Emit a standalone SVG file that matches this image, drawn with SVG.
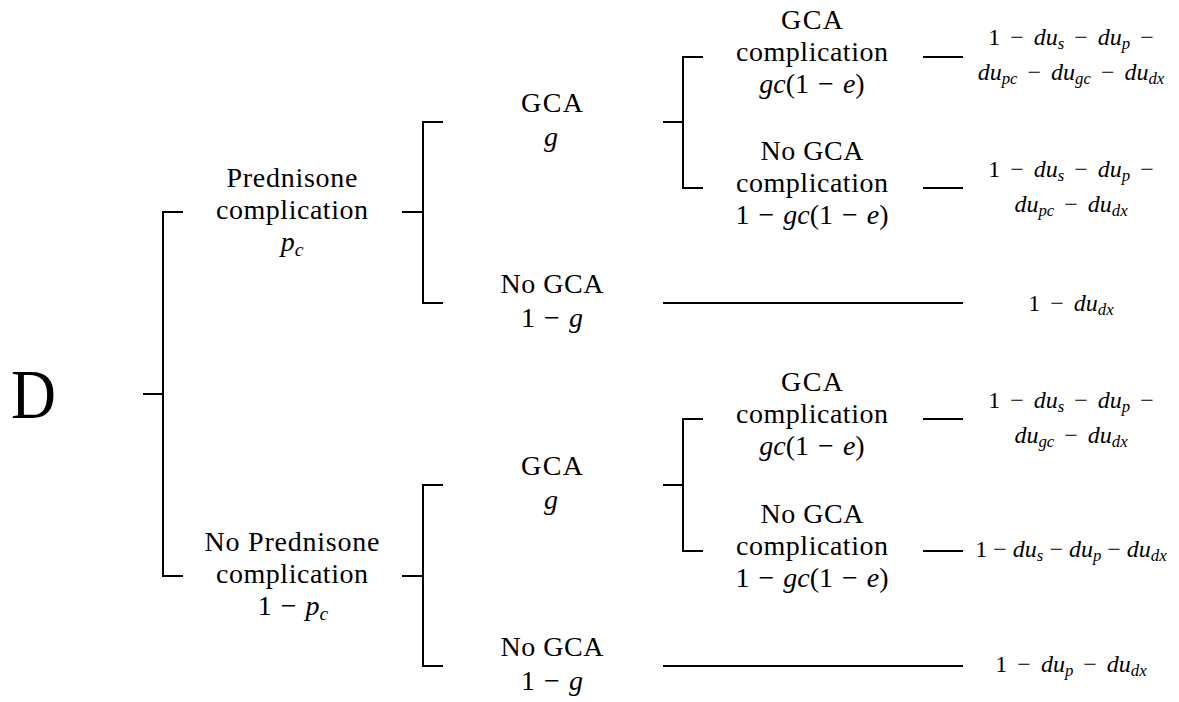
<svg xmlns="http://www.w3.org/2000/svg" width="1179" height="702" viewBox="0 0 1179 702">
<style>
.ln{stroke:#000;stroke-width:2;fill:none}
.t{font-family:"Liberation Serif","Times New Roman",serif;font-size:28px;fill:#000;text-anchor:middle}
.q{word-spacing:2px}
.m{font-size:24px;word-spacing:4px}
.k{word-spacing:0}
.i{font-style:italic}
.s{font-size:70%;font-style:italic}
</style>
<rect width="1179" height="702" fill="#fff"/>
<g id="connectors" class="ln">
<path d="M143 394H163M183 212H163V576H183"/>
<path d="M402 212H423M443 122H423V303H443"/>
<path d="M402 576H423M443 485H423V666H443"/>
<path d="M663 122H683M703 57H683V188H703"/>
<path d="M663 485H683M703 419H683V551H703"/>
<path d="M663 303H963M663 666H963"/>
<path d="M923 57H963M923 188H963M923 419H963M923 551H963"/>
</g>
<g id="n-root"><text class="t" x="11" y="418" style="text-anchor:start;font-size:70px" textLength="45" lengthAdjust="spacingAndGlyphs">D</text></g>
<g id="n-pc" class="t">
<text x="292" y="187" textLength="131">Prednisone</text>
<text x="292" y="219" textLength="152">complication</text>
<text x="292" y="251"><tspan class="i">p</tspan><tspan class="s" dy="5">c</tspan></text>
</g>
<g id="n-npc" class="t">
<text x="292" y="551" textLength="175">No Prednisone</text>
<text x="292" y="583" textLength="152">complication</text>
<text x="293" y="615" class="q">1 − <tspan class="i">p</tspan><tspan class="s" dy="5">c</tspan></text>
</g>
<g id="n-g1" class="t">
<text x="552" y="112" textLength="62">GCA</text>
<text x="551" y="146" class="i">g</text>
</g>
<g id="n-ng1" class="t">
<text x="552" y="293" textLength="103">No GCA</text>
<text x="552" y="327" class="q">1 − <tspan class="i">g</tspan></text>
</g>
<g id="n-g2" class="t">
<text x="552" y="475" textLength="62">GCA</text>
<text x="551" y="509" class="i">g</text>
</g>
<g id="n-ng2" class="t">
<text x="552" y="656" textLength="103">No GCA</text>
<text x="552" y="690" class="q">1 − <tspan class="i">g</tspan></text>
</g>
<g id="n-gc1" class="t">
<text x="812" y="29" textLength="62">GCA</text>
<text x="812" y="61" textLength="152">complication</text>
<text x="812" y="93" class="q"><tspan class="i">gc</tspan>(1 − <tspan class="i">e</tspan>)</text>
</g>
<g id="n-ngc1" class="t">
<text x="812" y="160" textLength="103">No GCA</text>
<text x="812" y="192" textLength="152">complication</text>
<text x="812" y="224" class="q">1 − <tspan class="i">gc</tspan>(1 − <tspan class="i">e</tspan>)</text>
</g>
<g id="n-gc2" class="t">
<text x="812" y="391" textLength="62">GCA</text>
<text x="812" y="423" textLength="152">complication</text>
<text x="812" y="455" class="q"><tspan class="i">gc</tspan>(1 − <tspan class="i">e</tspan>)</text>
</g>
<g id="n-ngc2" class="t">
<text x="812" y="523" textLength="103">No GCA</text>
<text x="812" y="555" textLength="152">complication</text>
<text x="812" y="587" class="q">1 − <tspan class="i">gc</tspan>(1 − <tspan class="i">e</tspan>)</text>
</g>
<g id="n-u1" class="t m">
<text x="1071" y="45">1 − <tspan class="i">du</tspan><tspan class="s" dy="4">s</tspan><tspan dy="-4"> − </tspan><tspan class="i">du</tspan><tspan class="s" dy="4">p</tspan><tspan dy="-4"> −</tspan></text>
<text x="1071" y="80"><tspan class="i">du</tspan><tspan class="s" dy="4">pc</tspan><tspan dy="-4"> − </tspan><tspan class="i">du</tspan><tspan class="s" dy="4">gc</tspan><tspan dy="-4"> − </tspan><tspan class="i">du</tspan><tspan class="s" dy="4">dx</tspan></text>
</g>
<g id="n-u2" class="t m">
<text x="1071" y="177">1 − <tspan class="i">du</tspan><tspan class="s" dy="4">s</tspan><tspan dy="-4"> − </tspan><tspan class="i">du</tspan><tspan class="s" dy="4">p</tspan><tspan dy="-4"> −</tspan></text>
<text x="1071" y="212"><tspan class="i">du</tspan><tspan class="s" dy="4">pc</tspan><tspan dy="-4"> − </tspan><tspan class="i">du</tspan><tspan class="s" dy="4">dx</tspan></text>
</g>
<g id="n-u3" class="t m">
<text x="1071" y="311">1 − <tspan class="i">du</tspan><tspan class="s" dy="4">dx</tspan></text>
</g>
<g id="n-u4" class="t m">
<text x="1071" y="408">1 − <tspan class="i">du</tspan><tspan class="s" dy="4">s</tspan><tspan dy="-4"> − </tspan><tspan class="i">du</tspan><tspan class="s" dy="4">p</tspan><tspan dy="-4"> −</tspan></text>
<text x="1071" y="443"><tspan class="i">du</tspan><tspan class="s" dy="4">gc</tspan><tspan dy="-4"> − </tspan><tspan class="i">du</tspan><tspan class="s" dy="4">dx</tspan></text>
</g>
<g id="n-u5" class="t m k">
<text x="1071" y="557">1 − <tspan class="i">du</tspan><tspan class="s" dy="4">s</tspan><tspan dy="-4"> − </tspan><tspan class="i">du</tspan><tspan class="s" dy="4">p</tspan><tspan dy="-4"> − </tspan><tspan class="i">du</tspan><tspan class="s" dy="4">dx</tspan></text>
</g>
<g id="n-u6" class="t m">
<text x="1071" y="672">1 − <tspan class="i">du</tspan><tspan class="s" dy="4">p</tspan><tspan dy="-4"> − </tspan><tspan class="i">du</tspan><tspan class="s" dy="4">dx</tspan></text>
</g>
</svg>
